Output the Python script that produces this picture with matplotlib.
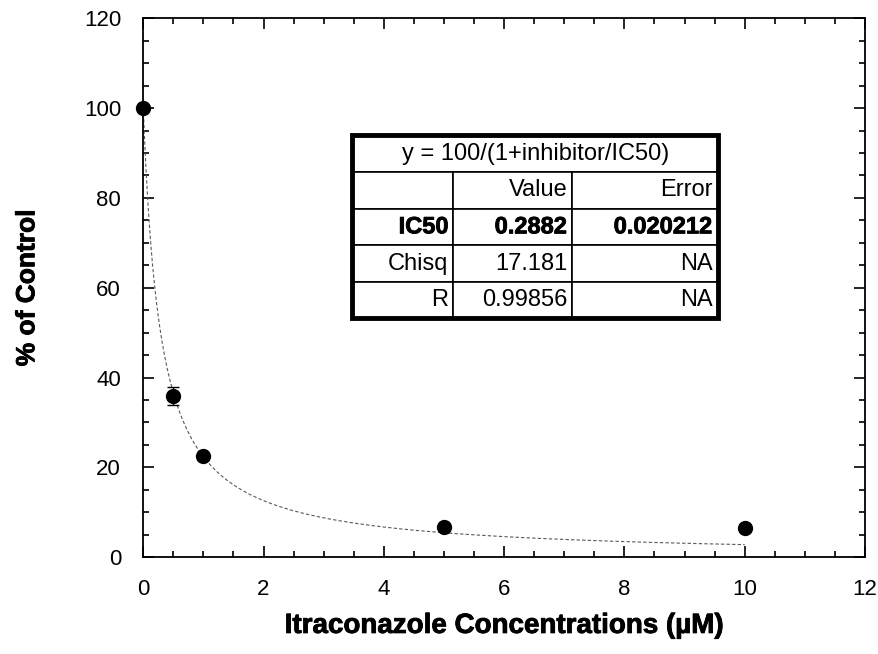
import numpy as np
import matplotlib.pyplot as plt
import matplotlib.patheffects as pe
from matplotlib.patches import Rectangle
from matplotlib.ticker import MultipleLocator

plt.rcParams['font.family'] = ['Liberation Sans', 'DejaVu Sans']

# measured points
conc = [0, 0.5, 1, 5, 10]
pct = [100, 35.8, 22.5, 6.8, 6.6]
pct_err = [0, 2.0, 0.8, 0.5, 0.5]

# fit result shown in the box
ic50 = 0.2882
ic50_err = 0.020212
chisq = 17.181
r_val = 0.99856

heavy = [pe.withStroke(linewidth=0.6, foreground='black')]

fig = plt.figure(figsize=(8.79, 6.54), dpi=100)
ax = fig.add_axes([0.163, 0.148, 0.821, 0.824])

xs = np.linspace(0, 10, 400)
ax.plot(xs, 100 / (1 + xs / ic50), color='0.35', lw=0.8, ls=(0, (3, 2)))
ax.errorbar(conc, pct, yerr=pct_err, fmt='o', color='black', ms=10,
            capsize=4, elinewidth=1, clip_on=False, zorder=5)

ax.set_xlim(0, 12)
ax.set_ylim(0, 120)
ax.xaxis.set_major_locator(MultipleLocator(2))
ax.xaxis.set_minor_locator(MultipleLocator(0.5))
ax.yaxis.set_major_locator(MultipleLocator(20))
ax.yaxis.set_minor_locator(MultipleLocator(5))
ax.tick_params(which='both', direction='in', top=True, right=True, labelsize=16, width=1.2)
ax.tick_params(which='major', length=8, pad=16)
ax.tick_params(which='minor', length=4)
for s in ax.spines.values():
    s.set_linewidth(1.3)

ax.set_xlabel('Itraconazole Concentrations (µM)', fontsize=20, fontweight='bold',
              labelpad=9, path_effects=heavy)
ax.set_ylabel('% of Control', fontsize=19, fontweight='bold', labelpad=32,
              path_effects=heavy)

# fit results box
x0, x1 = 0.2895, 0.797
ytop, ybot = 0.783, 0.443
rowh = (ytop - ybot) / 5
title_tab = ax.table(cellText=[['y = 100/(1+inhibitor/IC50)']], cellLoc='center',
                     bbox=[x0, ytop - rowh, x1 - x0, rowh])
rows = [['', 'Value', 'Error'],
        ['IC50', f'{ic50:.4f}', f'{ic50_err:.6f}'],
        ['Chisq', f'{chisq:.3f}', 'NA'],
        ['R', f'{r_val:.5f}', 'NA']]
body = ax.table(cellText=rows, cellLoc='right', colWidths=[100, 119, 146],
                bbox=[x0, ybot, x1 - x0, ytop - ybot - rowh])
for t in (title_tab, body):
    t.auto_set_font_size(False)
    t.set_fontsize(17)
    for (r, c), cell in t.get_celld().items():
        cell.set_linewidth(1.2)
        cell.PAD = 0.04
for c in range(3):
    txt = body[1, c].get_text()
    txt.set_fontweight('bold')
    txt.set_path_effects(heavy)
ax.add_patch(Rectangle((x0, ybot), x1 - x0, ytop - ybot, transform=ax.transAxes,
                       fill=False, lw=3.5, color='black', zorder=10))

plt.savefig('out.png', dpi=100)
